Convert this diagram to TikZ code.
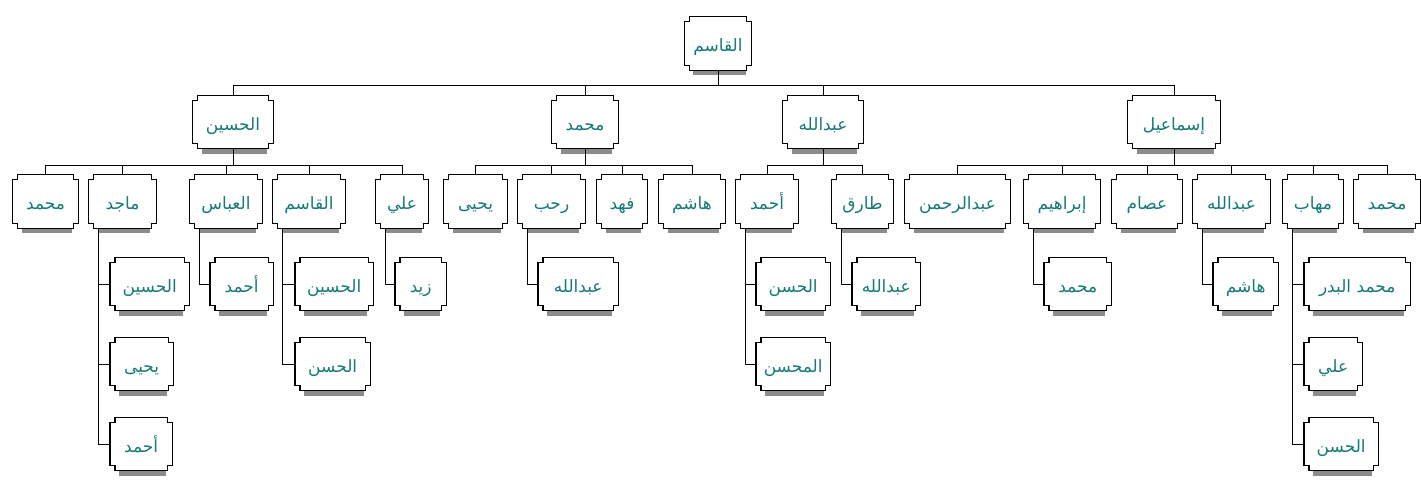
\documentclass[tikz,border=0pt]{standalone}
\usepackage{fontspec}
\newfontfamily\arabicfont[Script=Arabic]{DejaVu Sans}
\TeXXeTstate=1
\definecolor{nametext}{RGB}{22,122,120}
\definecolor{shadegray}{RGB}{140,140,140}
\newcommand{\rtl}[1]{\beginR#1\endR}
\tikzset{
  person/.style={minimum width=#1pt, minimum height=53pt, inner sep=0pt, text=nametext,
    font=\arabicfont\fontsize{17}{19}\selectfont, text height=16pt, text depth=0pt,
    append after command={\pgfextra{\edef\cardnode{\tikzlastnode}
      \fill[shadegray] ([xshift=9pt]\cardnode.south west) rectangle ([xshift=-6pt,yshift=-5pt]\cardnode.south east);
      \draw[line width=1.2pt] ([xshift=5pt]\cardnode.north west) -- ([xshift=-5pt]\cardnode.north east)
        -- ++(0pt,-5pt) -- ++(5pt,0pt) -- ([yshift=5pt]\cardnode.south east) -- ++(-5pt,0pt) -- ++(0pt,-5pt)
        -- ([xshift=5pt]\cardnode.south west) -- ++(0pt,5pt) -- ++(-5pt,0pt) -- ([yshift=-5pt]\cardnode.north west)
        -- ++(5pt,0pt) -- cycle;
    }}},
  person/.default=65,
  link/.style={line width=1pt, draw=black}
}

\begin{document}
\begin{tikzpicture}[x=1pt, y=-1pt]
  \useasboundingbox (0,0) rectangle (1421,485);
  % root
  \node[person=67] (qasim) at (718,43.5) {\rtl{القاسم}};
  % sons
  \node[person=80] (husayn) at (233,122) {\rtl{الحسين}};
  \node[person=66] (muhammad) at (585,122) {\rtl{محمد}};
  \node[person=80] (abdallah) at (823,122) {\rtl{عبدالله}};
  \node[person=92] (ismail) at (1174,122) {\rtl{إسماعيل}};
  % grandsons
  \node[person=65] (h1) at (45.5,201.5) {\rtl{محمد}};
  \node[person=67] (h2) at (122.5,201.5) {\rtl{ماجد}};
  \node[person=72] (h3) at (226,201.5) {\rtl{العباس}};
  \node[person=72] (h4) at (309,201.5) {\rtl{القاسم}};
  \node[person=52] (h5) at (402,201.5) {\rtl{علي}};
  \node[person=63] (m1) at (475.5,201.5) {\rtl{يحيى}};
  \node[person=67] (m2) at (551.5,201.5) {\rtl{رحب}};
  \node[person=50] (m3) at (622,201.5) {\rtl{فهد}};
  \node[person=66] (m4) at (692,201.5) {\rtl{هاشم}};
  \node[person=62] (a1) at (767,201.5) {\rtl{أحمد}};
  \node[person=61] (a2) at (862.5,201.5) {\rtl{طارق}};
  \node[person=105] (i1) at (957.5,201.5) {\rtl{عبدالرحمن}};
  \node[person=76] (i2) at (1062,201.5) {\rtl{إبراهيم}};
  \node[person=70] (i3) at (1147,201.5) {\rtl{عصام}};
  \node[person=77] (i4) at (1231.5,201.5) {\rtl{عبدالله}};
  \node[person=60] (i5) at (1313,201.5) {\rtl{مهاب}};
  \node[person=66] (i6) at (1387,201.5) {\rtl{محمد}};
  % great-grandsons
  \node[person=79, anchor=west] (h21) at (110,284) {\rtl{الحسين}};
  \node[person=63, anchor=west] (h22) at (110,364) {\rtl{يحيى}};
  \node[person=62, anchor=west] (h23) at (110,444) {\rtl{أحمد}};
  \node[person=63, anchor=west] (h31) at (210,284) {\rtl{أحمد}};
  \node[person=78, anchor=west] (h41) at (295,284) {\rtl{الحسين}};
  \node[person=75, anchor=west] (h42) at (295,364) {\rtl{الحسن}};
  \node[person=51, anchor=west] (h51) at (395,284) {\rtl{زيد}};
  \node[person=80, anchor=west] (m21) at (538,284) {\rtl{عبدالله}};
  \node[person=74, anchor=west] (a11) at (756,284) {\rtl{الحسن}};
  \node[person=74, anchor=west] (a12) at (756,364) {\rtl{المحسن}};
  \node[person=68, anchor=west] (a21) at (852,284) {\rtl{عبدالله}};
  \node[person=67, anchor=west] (i21) at (1044,284) {\rtl{محمد}};
  \node[person=65, anchor=west] (i41) at (1213,284) {\rtl{هاشم}};
  \node[person=106, anchor=west] (i51) at (1304,284) {\rtl{محمد البدر}};
  \node[person=58, anchor=west] (i52) at (1304,364) {\rtl{علي}};
  \node[person=74, anchor=west] (i53) at (1304,444) {\rtl{الحسن}};

  \foreach \c in {husayn,muhammad,abdallah,ismail}
    \draw[link] (qasim.south) -- ++(0,15) -| (\c.north);
  \foreach \p/\c in {husayn/h1,husayn/h2,husayn/h3,husayn/h4,husayn/h5,
                     muhammad/m1,muhammad/m2,muhammad/m3,muhammad/m4,
                     abdallah/a1,abdallah/a2,
                     ismail/i1,ismail/i2,ismail/i3,ismail/i4,ismail/i5,ismail/i6}
    \draw[link] (\p.south) -- ++(0,17) -| (\c.north);
  \foreach \p/\c in {h2/h21,h2/h22,h2/h23,h3/h31,h4/h41,h4/h42,h5/h51,m2/m21,
                     a1/a11,a1/a12,a2/a21,i2/i21,i4/i41,i5/i51,i5/i52,i5/i53}
    \draw[link] ([xshift=10pt]\p.south west) |- (\c.west);
\end{tikzpicture}
\end{document}
